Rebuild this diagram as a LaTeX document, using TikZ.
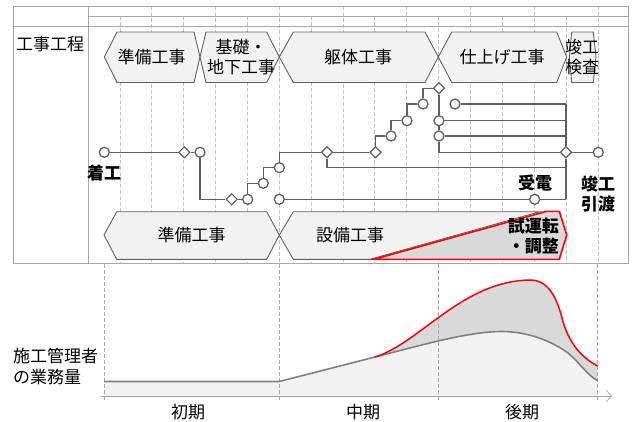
\documentclass[tikz,border=0pt]{standalone}
\usepackage{fontspec}
\setmainfont{Noto Sans CJK JP}
\usetikzlibrary{arrows.meta,shapes.geometric}
\definecolor{lnc}{HTML}{606060}
\definecolor{gridc}{HTML}{BFBFBF}
\definecolor{framec}{HTML}{A6A6A6}
\definecolor{shapefill}{HTML}{F2F2F2}
\definecolor{darkfill}{HTML}{D9D9D9}
\definecolor{curvegray}{HTML}{808080}
\tikzset{
  net/.style={draw=lnc, line width=1.3pt},
  circ/.style={circle, draw=lnc, fill=white, line width=1.3pt, minimum size=10pt, inner sep=0pt},
  dia/.style={diamond, draw=lnc, fill=white, line width=1.2pt, minimum size=11.5pt, inner sep=0pt},
  chev/.style={draw=lnc, fill=shapefill, line width=0.9pt, line join=miter},
  lbl/.style={font=\fontsize{17}{20}\selectfont, inner sep=0pt, align=center},
  blbl/.style={font=\fontsize{17}{20}\selectfont\bfseries, inner sep=0pt, align=center},
  gridline/.style={draw=gridc, dashed, dash pattern=on 4pt off 2pt, line width=0.7pt},
  frameline/.style={draw=framec, line width=0.9pt}
}
\def\redcurve{(375,357) .. controls (420,343) and (462,281) .. (530,280) .. controls (547,280) and (556,295) .. (562,318) .. controls (567,338) and (578,356) .. (597.7,366)}
\def\graycurve{(279.3,381.5) -- (375,357) .. controls (420,345.5) and (470,331) .. (503.3,331.5) .. controls (530,332) and (553,342) .. (568,353) .. controls (580,363) and (588,376) .. (597.7,380.7)}
\begin{document}
\begin{tikzpicture}[x=1pt,y=-1pt]
\useasboundingbox (0,0) rectangle (635,421);
% ---------- grid ----------
\foreach \k in {1,...,16}{
  \pgfmathsetmacro{\xx}{88+31.87*\k}
  \pgfmathparse{int(mod(\k,2))}
  \ifnum\pgfmathresult=0
    \draw[gridline] (\xx,6) -- (\xx,263.5);
  \else
    \draw[gridline] (\xx,16) -- (\xx,263.5);
  \fi
}
\draw[frameline] (13,6) rectangle (628,263.5);
\draw[frameline] (88,6) -- (88,263.5);
\draw[frameline] (88,16) -- (628,16);
\draw[frameline] (13,26) -- (628,26);
% ---------- top chevrons ----------
\draw[chev] (104.3,57) -- (117,32) -- (194,32) -- (200,57) -- (194,82.5) -- (117,82.5) -- cycle;
\draw[chev] (200,57) -- (206,32) -- (266.7,32) -- (279.3,57) -- (266.7,82.5) -- (206,82.5) -- cycle;
\draw[chev] (279.3,57) -- (293.3,32) -- (425,32) -- (438.3,57) -- (425,82.5) -- (293.3,82.5) -- cycle;
\draw[chev] (438.3,57) -- (451.7,32) -- (556.7,32) -- (566.7,57) -- (556.7,82.5) -- (451.7,82.5) -- cycle;
\draw[chev] (569.3,57) -- (571.7,32) -- (593.3,32) -- (596,57) -- (593.3,82.5) -- (571.7,82.5) -- cycle;
\node[lbl] (t1) at (151.5,57) {準備工事};
\node[lbl] (t2) at (241,57) {基礎・\\地下工事};
\node[lbl] (t3) at (358,57) {躯体工事};
\node[lbl] (t4) at (502,57) {仕上げ工事};
\node[lbl] (t5) at (582,57) {竣工\\検査};
% ---------- bottom chevrons ----------
\draw[chev] (104,235) -- (116.7,211.7) -- (266.7,211.7) -- (279.3,235) -- (266.7,259.3) -- (116.7,259.3) -- cycle;
\draw[chev] (279.3,235) -- (293.3,211.7) -- (540,211.7) -- (370,259.3) -- (293.3,259.3) -- cycle;
\draw[draw=red, fill=darkfill, line width=1.6pt, line join=miter] (374,259.3) -- (546.7,211.3) -- (559.3,211.3) -- (566.7,235) -- (559.3,259.3) -- cycle;
\node[lbl] (b1) at (191.7,235) {準備工事};
\node[lbl] (b2) at (350,235) {設備工事};
\node[blbl, anchor=east, align=right] (b3) at (559,236.5) {試運転\\・調整};
% ---------- network ----------
\node[circ] (n1) at (104.3,152.3) {};
\node[dia]  (d1) at (184.3,152.3) {};
\node[circ] (n2) at (200,152.3) {};
\node[dia]  (d2) at (231.7,199.3) {};
\node[circ] (n3) at (247.7,199.3) {};
\node[circ] (n4) at (263.3,183.3) {};
\node[circ] (n5) at (279.3,167.7) {};
\node[circ] (n6) at (279.3,199.3) {};
\node[dia]  (d3) at (327,152.3) {};
\node[dia]  (d4) at (375.5,152.3) {};
\node[circ] (n7) at (391,136) {};
\node[circ] (n8) at (407,120.7) {};
\node[circ] (n9) at (423,104) {};
\node[dia]  (d5) at (439,88.3) {};
\node[circ] (n10) at (439,120.7) {};
\node[circ] (n11) at (439,136) {};
\node[circ] (n12) at (455,104) {};
\node[dia]  (d6) at (566,152.3) {};
\node[circ] (n13) at (534.7,199.3) {};
\node[circ] (n14) at (598.3,152.3) {};
\coordinate (v4) at (566,104);
\coordinate (v2) at (566,120.7);
\coordinate (v3) at (566,136);
\coordinate (v1) at (566,167.7);
\coordinate (v5) at (566,199.3);
\draw[net] (n1) -- (d1);
\draw[net] (d1) -- (n2);
\draw[net] (n2) |- (d2);
\draw[net] (d2) -- (n3);
\draw[net] (n3) |- (n4);
\draw[net] (n4) |- (n5);
\draw[net] (n5) |- (d3);
\draw[net] (d3) -- (d4);
\draw[net] (d3) |- (v1);
\draw[net] (d4) |- (n7);
\draw[net] (n7) |- (n8);
\draw[net] (n8) |- (n9);
\draw[net] (n9) |- (d5);
\draw[net] (d5) -- (n10);
\draw[net] (n10) -- (n11);
\draw[net] (n11) |- (d6);
\draw[net] (n10) -- (v2);
\draw[net] (n11) -- (v3);
\draw[net] (n12) -- (v4);
\draw[net] (v4) -- (d6);
\draw[net] (d6) -- (v5);
\draw[net] (n6) -- (n13);
\draw[net] (n13) -- (v5);
\draw[net] (d6) -- (n14);
\node[blbl] (l1) at (104,173) {着工};
\node[blbl] (l2) at (535,183.3) {受電};
\node[blbl] (l3) at (598,194) {竣工\\引渡};
\node[lbl, anchor=west] (l0) at (16,44) {工事工程};
% ---------- lower chart ----------
\fill[darkfill] \redcurve -- (597.7,396) -- (375,396) -- cycle;
\fill[shapefill] (104,396) -- (104,381.5) -- \graycurve -- (597.7,396) -- cycle;
\foreach \xx in {104,279.3,438.3,597.7}{
  \draw[draw=framec, dashed, dash pattern=on 4pt off 2pt, line width=0.7pt] (\xx,264) -- (\xx,402);
}
\draw[draw=framec, line width=0.8pt, -{Straight Barb[length=5pt,width=11pt]}] (101,396) -- (612,396);
\draw[curvegray, line width=1.6pt, line join=round] (104,381.5) -- \graycurve;
\draw[red, line width=1.5pt] \redcurve;
\node[lbl, anchor=west] (y1) at (13,355.7) {施工管理者};
\node[lbl, anchor=west] (y2) at (13,376.7) {の業務量};
\node[lbl] (p1) at (188,412) {初期};
\node[lbl] (p2) at (363,412) {中期};
\node[lbl] (p3) at (522,412) {後期};
\end{tikzpicture}
\end{document}
